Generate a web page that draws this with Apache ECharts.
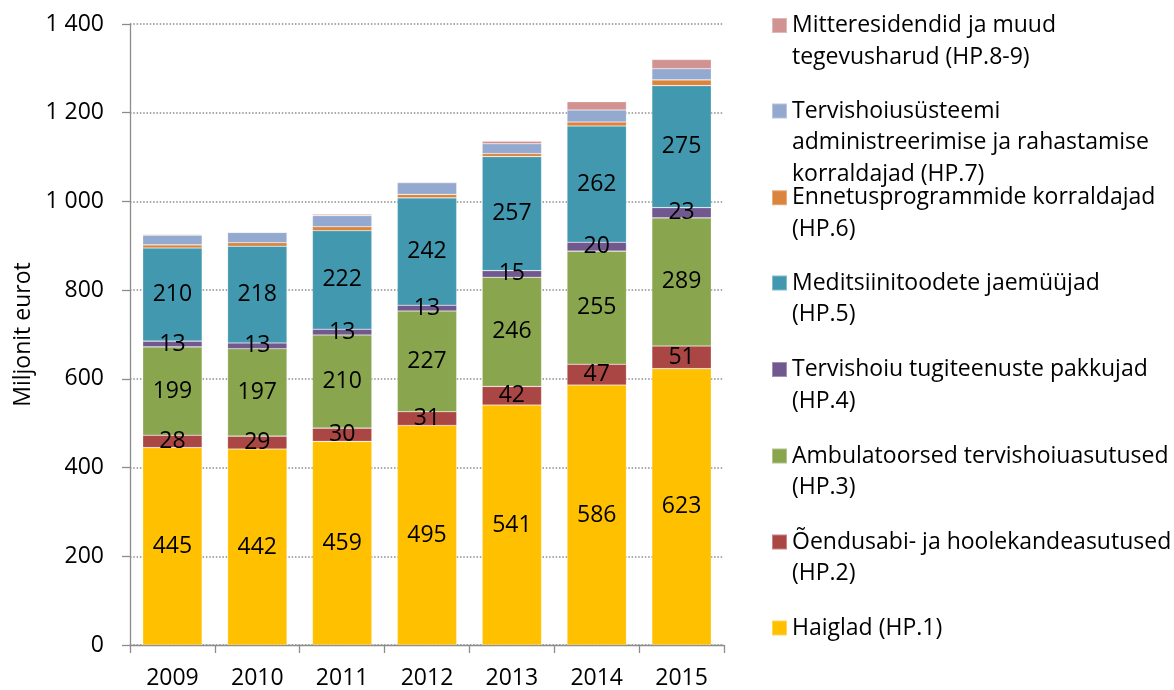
<!DOCTYPE html>
<html>
<head>
<meta charset="utf-8">
<script src="https://cdn.jsdelivr.net/npm/echarts@6/dist/echarts.min.js"></script>
<style>
  html, body { margin: 0; padding: 0; background: #fff; }
  #chart { width: 1174px; height: 690px; }
</style>
</head>
<body>
<div id="chart"></div>
<script>
const years = ['2009', '2010', '2011', '2012', '2013', '2014', '2015'];

const seriesNames = [
  'Haiglad (HP.1)',
  'Õendusabi- ja hoolekandeasutused\n(HP.2)',
  'Ambulatoorsed tervishoiuasutused\n(HP.3)',
  'Tervishoiu tugiteenuste pakkujad\n(HP.4)',
  'Meditsiinitoodete jaemüüjad\n(HP.5)',
  'Ennetusprogrammide korraldajad\n(HP.6)',
  'Tervishoiusüsteemi\nadministreerimise ja rahastamise\nkorraldajad (HP.7)',
  'Mitteresidendid ja muud\ntegevusharud (HP.8-9)'
];

const hp1 = [445, 442, 459, 495, 541, 586, 623];
const hp2 = [28, 29, 30, 31, 42, 47, 51];
const hp3 = [199, 197, 210, 227, 246, 255, 289];
const hp4 = [13, 13, 13, 13, 15, 20, 23];
const hp5 = [210, 218, 222, 242, 257, 262, 275];
const hp6 = [7, 8, 9, 8, 7, 9, 13];
const hp7 = [22, 23, 25, 26, 22, 27, 25];
const hp89 = [2, 1, 3, 2, 6, 19, 21];

const seriesValues = [hp1, hp2, hp3, hp4, hp5, hp6, hp7, hp89];
const colors = ['#FFC000', '#AA4643', '#89A54E', '#71588F', '#4198AF', '#DB843D', '#93A9CF', '#D19392'];
const labelled = [true, true, true, true, true, false, false, false];

const FONT = 'Open Sans';
const FS = 23;
const LH = 31.5;

// legend icon centre y, top item first (as in the picture)
const legendCentres = [25.5, 111, 197.7, 283, 369.5, 456, 542, 628];

const chart = echarts.init(document.getElementById('chart'), null, { renderer: 'canvas' });

const series = seriesNames.map(function (name, i) {
  return {
    name: name,
    type: 'bar',
    stack: 'total',
    barCategoryGap: '30%',
    data: seriesValues[i],
    itemStyle: { color: colors[i], borderColor: 'rgba(255,255,255,0.35)', borderWidth: 0.6 },
    label: {
      show: labelled[i],
      position: 'inside',
      color: '#000',
      fontFamily: FONT,
      fontSize: FS
    },
    emphasis: { disabled: true }
  };
});

// one legend per entry so the icon sits on the first text line
const legends = seriesNames.slice().reverse().map(function (name, k) {
  const lines = name.split('\n').length;
  const h = (2 * lines - 1) * LH;
  return {
    orient: 'vertical',
    left: 771,
    top: legendCentres[k] - h / 2,
    padding: 0,
    itemWidth: 15,
    itemHeight: 15,
    itemGap: 0,
    icon: 'rect',
    selectedMode: false,
    data: [name],
    formatter: function (n) {
      return '\n'.repeat(lines - 1) + n;
    },
    textStyle: {
      fontFamily: FONT,
      fontSize: FS,
      color: '#000',
      lineHeight: LH
    }
  };
});

chart.setOption({
  animation: false,
  backgroundColor: '#fff',
  textStyle: { fontFamily: FONT },
  grid: { left: 130, right: 450, top: 24, bottom: 43, containLabel: false },
  legend: legends,
  xAxis: {
    type: 'category',
    data: years,
    axisLine: { lineStyle: { color: '#8c8c8c', width: 1.3 } },
    axisTick: { show: true, length: 8, lineStyle: { color: '#8c8c8c', width: 1.3 } },
    axisLabel: { color: '#000', fontFamily: FONT, fontSize: FS, margin: 22 }
  },
  yAxis: {
    type: 'value',
    min: 0,
    max: 1400,
    interval: 200,
    name: 'Miljonit eurot',
    nameLocation: 'middle',
    nameGap: 95,
    nameTextStyle: { color: '#000', fontFamily: FONT, fontSize: FS },
    axisLine: { show: true, lineStyle: { color: '#8c8c8c', width: 1.3 } },
    axisTick: { show: true, length: 8, lineStyle: { color: '#8c8c8c', width: 1.3 } },
    axisLabel: {
      color: '#000',
      fontFamily: FONT,
      fontSize: FS,
      margin: 26,
      formatter: function (v) {
        return String(v).replace(/\B(?=(\d{3})+(?!\d))/g, ' ');
      }
    },
    splitLine: { show: true, lineStyle: { color: '#8c8c8c', width: 1.5, type: [1.5, 1.8] } }
  },
  series: series
});
</script>
</body>
</html>
